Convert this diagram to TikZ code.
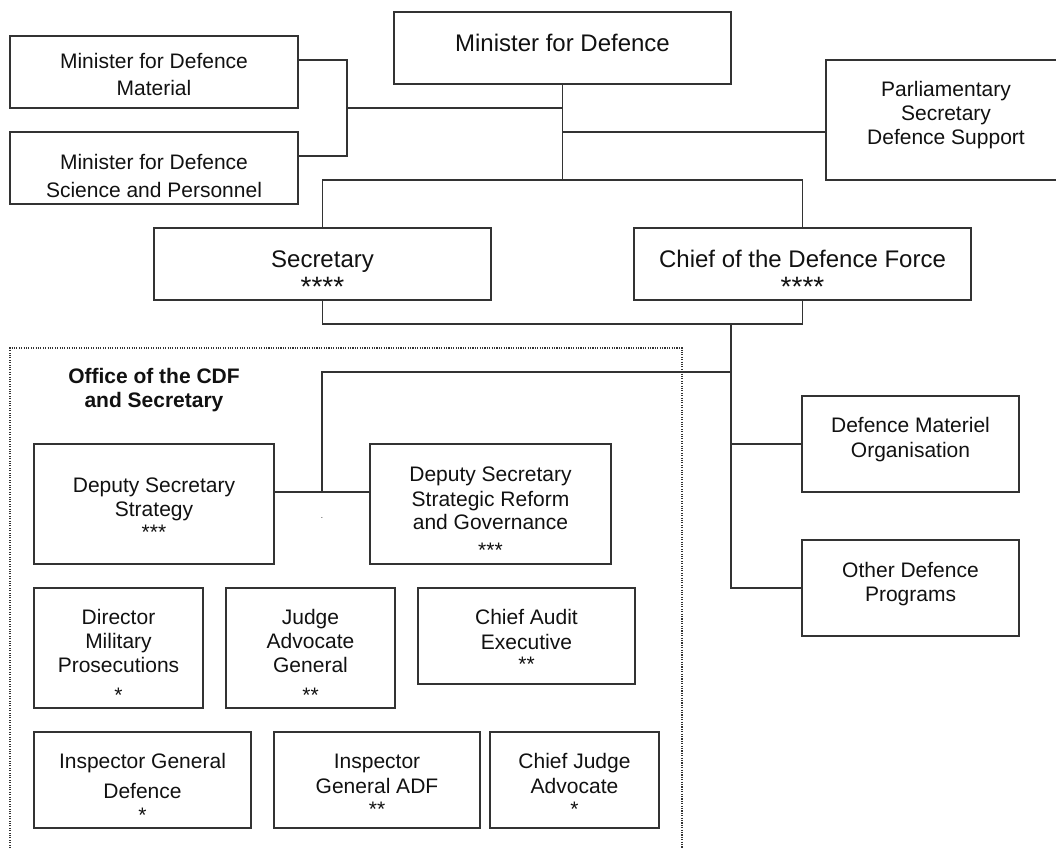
\documentclass[tikz,border=0pt]{standalone}
\usepackage{fontspec}
\setmainfont{Liberation Sans}
\newcommand\fsz[1]{\fontsize{#1}{#1}\selectfont}
\definecolor{ln}{HTML}{333333}
\definecolor{tx}{HTML}{111111}
\begin{document}
\begin{tikzpicture}[x=1pt,y=-1pt,
  box/.style={draw=ln, line width=1.2pt, rectangle, inner sep=0pt},
  conn/.style={draw=ln, line width=1.2pt},
  lbl/.style={font=\fsz{21}, text=tx, inner sep=0pt, text height=15pt, text depth=0pt, anchor=center},
  big/.style={lbl, font=\fsz{24}, text height=17.2pt},
  bold/.style={lbl, font=\fsz{21}\bfseries},
  stars/.style={font=\fsz{21}, text=tx, inner sep=0pt, anchor=base, yshift=-10.5pt},
  bigstars/.style={font=\fsz{28}, text=tx, inner sep=0pt, anchor=base, yshift=-13.5pt},
  dotbox/.style={draw=ln, line width=1.2pt, dash pattern=on 1.1pt off 1.3pt}
]
\useasboundingbox (0,0) rectangle (1056,848);
\clip (0,0) rectangle (1056,848);

% boxes
\node[box, minimum width=337pt, minimum height=72pt] (mindef) at (562.5,48) {};
\node[box, minimum width=288pt, minimum height=72pt] (minmat) at (154,72) {};
\node[box, minimum width=288pt, minimum height=72pt] (minsci) at (154,168) {};
\node[box, minimum width=240pt, minimum height=120pt] (parl) at (946,120) {};
\node[box, minimum width=337pt, minimum height=72pt] (sec) at (322.5,264) {};
\node[box, minimum width=337pt, minimum height=72pt] (cdf) at (802.5,264) {};
\node[box, minimum width=240pt, minimum height=120pt] (dss) at (154,504) {};
\node[box, minimum width=241pt, minimum height=120pt] (dsr) at (490.5,504) {};
\node[box, minimum width=169pt, minimum height=120pt] (dmp) at (118.5,648) {};
\node[box, minimum width=169pt, minimum height=120pt] (jag) at (310.5,648) {};
\node[box, minimum width=217pt, minimum height=96pt] (cae) at (526.5,636) {};
\node[box, minimum width=217pt, minimum height=96pt] (igd) at (142.5,780) {};
\node[box, minimum width=206pt, minimum height=96pt] (iga) at (377,780) {};
\node[box, minimum width=169pt, minimum height=96pt] (cja) at (574.5,780) {};
\node[box, minimum width=217pt, minimum height=96pt] (dmo) at (910.5,444) {};
\node[box, minimum width=217pt, minimum height=96pt] (odp) at (910.5,588) {};

% dotted office frame
\draw[dotbox] (10,860) -- (10,348) -- (682,348) -- (682,860);

% texts
\node[big] (mindef-t) at (562.5,42.5) {Minister for Defence};
\node[lbl] (minmat-t1) at (154,61.5) {Minister for Defence};
\node[lbl] (minmat-t2) at (154,88) {Material};
\node[lbl] (minsci-t1) at (154,162) {Minister for Defence};
\node[lbl] (minsci-t2) at (154,189.5) {Science and Personnel};
\node[lbl] (parl-t1) at (946,89) {Parliamentary};
\node[lbl] (parl-t2) at (946,113) {Secretary};
\node[lbl] (parl-t3) at (946,137) {Defence Support};
\node[big] (sec-t) at (322.5,258.5) {Secretary};
\node[bigstars] (sec-s) at (322.5,282.5) {****};
\node[big] (cdf-t) at (802.5,258.5) {Chief of the Defence Force};
\node[bigstars] (cdf-s) at (802.5,283) {****};
\node[bold] (off-t1) at (154,376) {Office of the CDF};
\node[bold] (off-t2) at (154,400) {and Secretary};
\node[lbl] (dss-t1) at (154,484.5) {Deputy Secretary};
\node[lbl] (dss-t2) at (154,508.5) {Strategy};
\node[stars] (dss-s) at (154,528.5) {***};
\node[lbl] (dsr-t1) at (490.5,473.5) {Deputy Secretary};
\node[lbl] (dsr-t2) at (490.5,498.5) {Strategic Reform};
\node[lbl] (dsr-t3) at (490.5,522) {and Governance};
\node[stars] (dsr-s) at (490.5,546.5) {***};
\node[lbl] (dmp-t1) at (118.5,617) {Director};
\node[lbl] (dmp-t2) at (118.5,641) {Military};
\node[lbl] (dmp-t3) at (118.5,665) {Prosecutions};
\node[stars] (dmp-s) at (118.5,691.5) {*};
\node[lbl] (jag-t1) at (310.5,617) {Judge};
\node[lbl] (jag-t2) at (310.5,641) {Advocate};
\node[lbl] (jag-t3) at (310.5,665) {General};
\node[stars] (jag-s) at (310.5,691.5) {**};
\node[lbl] (cae-t1) at (526.5,617) {Chief Audit};
\node[lbl] (cae-t2) at (526.5,641.5) {Executive};
\node[stars] (cae-s) at (526.5,661) {**};
\node[lbl] (igd-t1) at (142.5,760.5) {Inspector General};
\node[lbl] (igd-t2) at (142.5,790.5) {Defence};
\node[stars] (igd-s) at (142.5,811.5) {*};
\node[lbl] (iga-t1) at (377,760.5) {Inspector};
\node[lbl] (iga-t2) at (377,785.5) {General ADF};
\node[stars] (iga-s) at (377,806) {**};
\node[lbl] (cja-t1) at (574.5,761) {Chief Judge};
\node[lbl] (cja-t2) at (574.5,785.5) {Advocate};
\node[stars] (cja-s) at (574.5,806) {*};
\node[lbl] (dmo-t1) at (910.5,424.5) {Defence Materiel};
\node[lbl] (dmo-t2) at (910.5,449.5) {Organisation};
\node[lbl] (odp-t1) at (910.5,569.5) {Other Defence};
\node[lbl] (odp-t2) at (910.5,594) {Programs};
\node[font=\fsz{8}, text=tx, inner sep=0pt, anchor=base] (dot) at (322,518) {.};

% connectors
\coordinate (brk) at (347,108);
\coordinate (hb) at (562.5,180);
\coordinate (pj) at ([yshift=-12pt]parl.west);
\coordinate (bb) at (731,324);
\coordinate (ob) at (731,372);
\coordinate (oj) at (322,492);
\draw[conn] ([yshift=12pt]minmat.east) -| (brk) |- ([yshift=12pt]minsci.east);
\draw[conn] (brk) -- (mindef.south |- brk);
\draw[conn] (mindef.south) -- (hb);
\draw[conn] (pj) -- (mindef.south |- pj);
\draw[conn] (sec.north) |- (hb) -| (cdf.north);
\draw[conn] (sec.south) |- (bb) -| (cdf.south);
\draw[conn] (bb) |- (odp.west);
\draw[conn] (bb |- dmo.west) -- (dmo.west);
\draw[conn] (ob) -| (oj);
\draw[conn] (dss.east |- oj) -- (dsr.west |- oj);
\end{tikzpicture}
\end{document}
